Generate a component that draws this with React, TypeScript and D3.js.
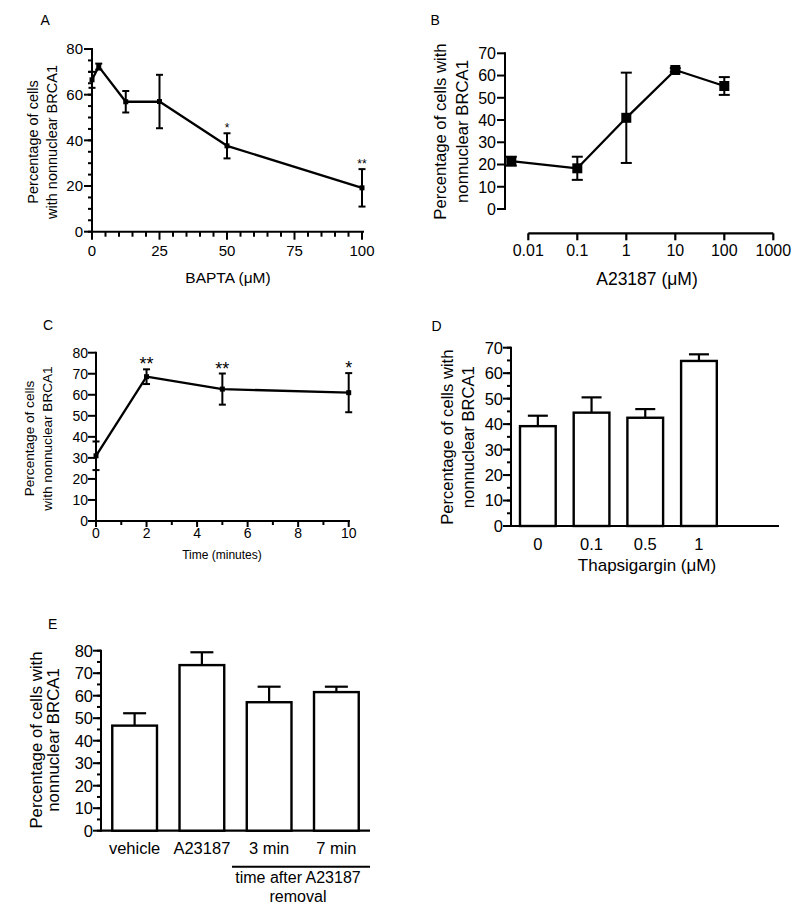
import React from "react";
import * as d3 from "d3";

const FONT = "'Liberation Sans', Arial, Helvetica, sans-serif";

// ---------- Panel A : BAPTA ----------
const baptaDose = [0, 2.5, 12.5, 25, 50, 100];
const baptaMean = [66.5, 72.3, 56.9, 57, 37.6, 19.2];
const baptaSem = [3.5, 1.3, 4.7, 11.7, 5.5, 8.2];
const baptaSig = ["", "", "", "", "*", "**"];
const baptaXTicks = [0, 25, 50, 75, 100];
const baptaYTicks = [0, 20, 40, 60, 80];

// ---------- Panel B : A23187 ----------
const a23187Dose = [0.0045, 0.1, 1, 10, 100];
const a23187Mean = [21.5, 18.3, 41, 62.5, 55.3];
const a23187Sem = [2, 5.2, 20.3, 0.8, 4];
const a23187XTicks = [0.01, 0.1, 1, 10, 100, 1000];
const a23187YTicks = [0, 10, 20, 30, 40, 50, 60, 70];

// ---------- Panel C : time ----------
const timeMin = [0, 2, 5, 10];
const timeMean = [31, 68.6, 62.7, 61];
const timeSem = [6.8, 3.5, 7.4, 9.3];
const timeSig = ["", "**", "**", "*"];
const timeXTicks = [0, 2, 4, 6, 8, 10];
const timeYTicks = [0, 10, 20, 30, 40, 50, 60, 70, 80];

// ---------- Panel D : thapsigargin ----------
const thapsCats = ["0", "0.1", "0.5", "1"];
const thapsMean = [39.2, 44.5, 42.5, 64.8];
const thapsSem = [4.1, 6, 3.4, 2.6];
const thapsYTicks = [0, 10, 20, 30, 40, 50, 60, 70];

// ---------- Panel E : removal ----------
const removalCats = ["vehicle", "A23187", "3 min", "7 min"];
const removalMean = [46.7, 73.6, 57.1, 61.6];
const removalSem = [5.5, 5.7, 6.9, 2.4];
const removalYTicks = [0, 10, 20, 30, 40, 50, 60, 70, 80];

const SW = 2;

function YAxis({ scale, x, ticks, minor, fs, majorLen = 8, minorLen = 4, gap = 1 }: any) {
  const [d0, d1] = scale.domain();
  return (
    <g>
      <line x1={x} x2={x} y1={scale(d0)} y2={scale(d1)} stroke="#000" strokeWidth={SW} strokeLinecap="square" />
      {(minor || []).map((t: number) => (
        <line key={"m" + t} x1={x - minorLen} x2={x} y1={scale(t)} y2={scale(t)} stroke="#000" strokeWidth={SW} />
      ))}
      {ticks.map((t: number) => (
        <g key={t}>
          <line x1={x - majorLen} x2={x} y1={scale(t)} y2={scale(t)} stroke="#000" strokeWidth={SW} />
          <text x={x - majorLen - gap} y={scale(t)} dy="0.36em" textAnchor="end" fontSize={fs} fontFamily={FONT}>
            {String(t)}
          </text>
        </g>
      ))}
    </g>
  );
}

function YTitle({ xs, cy, lines, fs }: any) {
  return (
    <g>
      {lines.map((l: string, i: number) => (
        <text key={i} transform={`translate(${xs[i]},${cy}) rotate(-90)`} dy="0.35em" textAnchor="middle" fontSize={fs} fontFamily={FONT}>
          {l}
        </text>
      ))}
    </g>
  );
}

function Label({ x, y, t }: any) {
  return (
    <text x={x} y={y} fontSize={14} fontFamily={FONT}>
      {t}
    </text>
  );
}

function ErrBar({ x, yTop, yBot, cap }: any) {
  return (
    <g stroke="#000" strokeWidth={SW}>
      <line x1={x} x2={x} y1={yTop} y2={yBot} />
      <line x1={x - cap / 2} x2={x + cap / 2} y1={yTop} y2={yTop} />
      <line x1={x - cap / 2} x2={x + cap / 2} y1={yBot} y2={yBot} />
    </g>
  );
}

function PanelA() {
  const x = d3.scaleLinear().domain([0, 100]).range([92, 362]);
  const y = d3.scaleLinear().domain([0, 80]).range([231.7, 49]);
  const pts = baptaDose.map((d, i) => ({ d, m: baptaMean[i], e: baptaSem[i], s: baptaSig[i] }));
  const line = d3.line<any>().x((p) => x(p.d)).y((p) => y(p.m));
  const y0 = y(0);
  return (
    <g>
      <Label x={40.5} y={25} t="A" />
      <YAxis scale={y} x={92} ticks={baptaYTicks} minor={d3.range(0, 81, 5)} fs={15} />
      <line x1={92} x2={364} y1={y0} y2={y0} stroke="#000" strokeWidth={SW} />
      {d3.range(0, 101, 5).map((t) => (
        <line key={t} x1={x(t)} x2={x(t)} y1={y0} y2={y0 + (t % 25 === 0 ? 8 : 5)} stroke="#000" strokeWidth={SW} />
      ))}
      {baptaXTicks.map((t) => (
        <text key={t} x={x(t)} y={255.5} textAnchor="middle" fontSize={15} fontFamily={FONT}>{t}</text>
      ))}
      <text x={228} y={283} textAnchor="middle" fontSize={15.5} fontFamily={FONT}>BAPTA (μM)</text>
      <YTitle xs={[33, 51.5]} cy={142} lines={["Percentage of cells", "with nonnuclear BRCA1"]} fs={14.5} />
      <path d={line(pts) || ""} fill="none" stroke="#000" strokeWidth={2.3} strokeLinejoin="round" />
      {pts.map((p, i) => (
        <g key={i}>
          <ErrBar x={x(p.d)} yTop={y(p.m + p.e)} yBot={y(p.m - p.e)} cap={7} />
          <rect x={x(p.d) - 2.5} y={y(p.m) - 2.5} width={5} height={5} fill="#000" />
          {p.s && (
            <text x={x(p.d)} y={y(p.m + p.e) - 1} textAnchor="middle" fontSize={12} fontFamily={FONT}>{p.s}</text>
          )}
        </g>
      ))}
    </g>
  );
}

function PanelB() {
  const x = d3.scaleLog().domain([0.01, 1000]).range([528.3, 773.3]);
  const y = d3.scaleLinear().domain([0, 70]).range([209, 53.3]);
  const pts = a23187Dose.map((d, i) => ({ d, m: a23187Mean[i], e: a23187Sem[i] }));
  const line = d3.line<any>().x((p) => x(p.d)).y((p) => y(p.m));
  const ax = 233.3;
  return (
    <g>
      <Label x={430.5} y={25} t="B" />
      <YAxis scale={y} x={505} ticks={a23187YTicks} fs={16} />
      <line x1={x(0.01)} x2={x(1000)} y1={ax} y2={ax} stroke="#000" strokeWidth={2.2} />
      {a23187XTicks.map((t) => (
        <g key={t}>
          <line x1={x(t)} x2={x(t)} y1={ax} y2={ax + 7} stroke="#000" strokeWidth={2.2} />
          <text x={x(t)} y={256} textAnchor="middle" fontSize={16} fontFamily={FONT}>{String(t)}</text>
        </g>
      ))}
      <text x={647} y={284.5} textAnchor="middle" fontSize={17.5} fontFamily={FONT}>A23187 (μM)</text>
      <YTitle xs={[440, 461.7]} cy={131.5} lines={["Percentage of cells with", "nonnuclear BRCA1"]} fs={16.7} />
      <path d={line(pts) || ""} fill="none" stroke="#000" strokeWidth={2.3} strokeLinejoin="round" />
      {pts.map((p, i) => (
        <g key={i}>
          <ErrBar x={x(p.d)} yTop={y(p.m + p.e)} yBot={y(p.m - p.e)} cap={11} />
          <rect x={x(p.d) - 5} y={y(p.m) - 5} width={10} height={10} fill="#000" />
        </g>
      ))}
    </g>
  );
}

function PanelC() {
  const x = d3.scaleLinear().domain([0, 10]).range([96, 348.7]);
  const y = d3.scaleLinear().domain([0, 80]).range([521, 352.7]);
  const pts = timeMin.map((d, i) => ({ d, m: timeMean[i], e: timeSem[i], s: timeSig[i] }));
  const line = d3.line<any>().x((p) => x(p.d)).y((p) => y(p.m));
  const y0 = y(0);
  return (
    <g>
      <Label x={43} y={330} t="C" />
      <YAxis scale={y} x={96} ticks={timeYTicks} fs={14} gap={0} />
      <line x1={96} x2={350} y1={y0} y2={y0} stroke="#000" strokeWidth={SW} />
      {d3.range(0, 11, 1).map((t) => (
        <line key={t} x1={x(t)} x2={x(t)} y1={y0} y2={y0 + (t % 2 === 0 ? 6 : 4)} stroke="#000" strokeWidth={SW} />
      ))}
      {timeXTicks.map((t) => (
        <text key={t} x={x(t)} y={537.5} textAnchor="middle" fontSize={14} fontFamily={FONT}>{t}</text>
      ))}
      <text x={222} y={559} textAnchor="middle" fontSize={12} fontFamily={FONT}>Time (minutes)</text>
      <YTitle xs={[29, 47]} cy={438.5} lines={["Percentage of cells", "with nonnuclear BRCA1"]} fs={13.6} />
      <path d={line(pts) || ""} fill="none" stroke="#000" strokeWidth={2.3} strokeLinejoin="round" />
      {pts.map((p, i) => (
        <g key={i}>
          <ErrBar x={x(p.d)} yTop={y(p.m + p.e)} yBot={y(p.m - p.e)} cap={7} />
          <rect x={x(p.d) - 2.5} y={y(p.m) - 2.5} width={5} height={5} fill="#000" />
          {p.s && (
            <text x={x(p.d)} y={y(p.m + p.e) + 1} textAnchor="middle" fontSize={18} fontFamily={FONT}>{p.s}</text>
          )}
        </g>
      ))}
    </g>
  );
}

function BarPanel({ cats, mean, sem, yTicks, yMax, x0, x1, yBottom, yTop, capW, fs, tickBase, axisEnd }: any) {
  const x = d3.scaleBand().domain(cats).range([x0, x1]).paddingInner(0.335).paddingOuter(0.1675);
  const y = d3.scaleLinear().domain([0, yMax]).range([yBottom, yTop]);
  const y0 = y(0);
  return (
    <g>
      <YAxis scale={y} x={x0} ticks={yTicks} minor={d3.range(0, yMax + 1, 5)} fs={fs} gap={0} />
      <line x1={x0} x2={axisEnd} y1={y0} y2={y0} stroke="#000" strokeWidth={2.2} />
      {cats.map((c: string, i: number) => {
        const bx = x(c) as number;
        const bw = x.bandwidth();
        const cx = bx + bw / 2;
        return (
          <g key={c}>
            <line x1={cx} x2={cx} y1={y(mean[i])} y2={y(mean[i] + sem[i])} stroke="#000" strokeWidth={2.2} />
            <line x1={cx - capW / 2} x2={cx + capW / 2} y1={y(mean[i] + sem[i])} y2={y(mean[i] + sem[i])} stroke="#000" strokeWidth={2.2} />
            <rect x={bx} y={y(mean[i])} width={bw} height={y0 - y(mean[i])} fill="#fff" stroke="#000" strokeWidth={2.4} />
            <text x={cx} y={tickBase} textAnchor="middle" fontSize={fs} fontFamily={FONT}>{c}</text>
          </g>
        );
      })}
    </g>
  );
}

function PanelD() {
  return (
    <g>
      <Label x={431.5} y={331} t="D" />
      <BarPanel cats={thapsCats} mean={thapsMean} sem={thapsSem} yTicks={thapsYTicks} yMax={70}
        x0={511} x1={725.8} yBottom={526} yTop={347.7} capW={20} fs={16.5} tickBase={549.5} axisEnd={779} />
      <text x={647} y={570.5} textAnchor="middle" fontSize={17} fontFamily={FONT}>Thapsigargin (μM)</text>
      <YTitle xs={[446.7, 468.3]} cy={437.2} lines={["Percentage of cells with", "nonnuclear BRCA1"]} fs={16.6} />
    </g>
  );
}

function PanelE() {
  const x0 = 101, x1 = 370;
  const band = d3.scaleBand().domain(removalCats).range([x0, x1]).paddingInner(0.335).paddingOuter(0.1675);
  const bracketStart = (band("3 min") as number) - band.step() * 0.22;
  const mid = (bracketStart + x1) / 2 - 3;
  return (
    <g>
      <Label x={48} y={629} t="E" />
      <BarPanel cats={removalCats} mean={removalMean} sem={removalSem} yTicks={removalYTicks} yMax={80}
        x0={x0} x1={x1} yBottom={830.7} yTop={650.7} capW={23} fs={16.5} tickBase={854} axisEnd={x1} />
      <line x1={bracketStart} x2={x1} y1={866.7} y2={866.7} stroke="#000" strokeWidth={2} />
      <text x={mid} y={883.3} textAnchor="middle" fontSize={16} fontFamily={FONT}>time after A23187</text>
      <text x={mid} y={901.5} textAnchor="middle" fontSize={16} fontFamily={FONT}>removal</text>
      <YTitle xs={[36, 53.5]} cy={740} lines={["Percentage of cells with", "nonnuclear BRCA1"]} fs={16.8} />
    </g>
  );
}

export default function App() {
  return (
    <svg width={800} height={923} style={{ position: "absolute", left: 0, top: 0 }} xmlns="http://www.w3.org/2000/svg">
      <rect width={800} height={923} fill="#fff" />
      <PanelA />
      <PanelB />
      <PanelC />
      <PanelD />
      <PanelE />
    </svg>
  );
}
